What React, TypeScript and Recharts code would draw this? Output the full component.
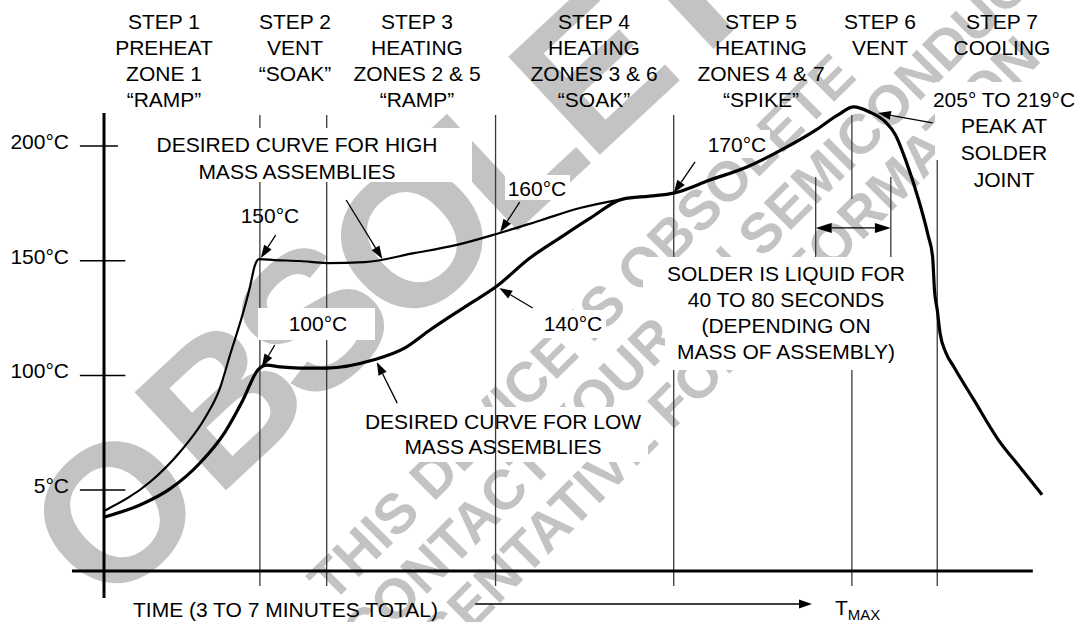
import React from 'react';
import { LineChart, Line, XAxis, YAxis, ReferenceLine } from 'recharts';

// ---- data (time in arbitrary units 0..104, temperature in °C) ----
const highMassCurve = [
  { t: 0, temp: 40.9 }, { t: 4.96, temp: 53.5 }, { t: 8.19, temp: 66.6 }, { t: 10.88, temp: 81.4 },
  { t: 12.5, temp: 94.5 }, { t: 13.58, temp: 108.9 }, { t: 14.98, temp: 127.2 }, { t: 15.73, temp: 138.6 },
  { t: 16.27, temp: 148.1 }, { t: 16.7, temp: 150.7 }, { t: 18.4, temp: 150.3 }, { t: 21.1, temp: 149.9 },
  { t: 24.0, temp: 149.0 }, { t: 28.1, temp: 149.4 }, { t: 33.4, temp: 153.3 }, { t: 37.9, temp: 156.8 },
  { t: 42.3, temp: 161.7 }, { t: 47.1, temp: 167.7 }, { t: 51.3, temp: 173.0 }, { t: 55.9, temp: 176.9 },
];

const lowMassCurve = [
  { t: 0, temp: 38.2 }, { t: 3.88, temp: 43.5 }, { t: 7.11, temp: 50.5 }, { t: 10.34, temp: 61.8 },
  { t: 13.04, temp: 75.3 }, { t: 14.98, temp: 89.3 }, { t: 16.59, temp: 102.4 }, { t: 17.56, temp: 104.5 },
  { t: 18.97, temp: 103.7 }, { t: 21.12, temp: 103.2 }, { t: 24.03, temp: 103.2 }, { t: 28.99, temp: 106.7 },
  { t: 32.44, temp: 112.0 }, { t: 35.13, temp: 119.8 }, { t: 38.9, temp: 129.9 }, { t: 42.35, temp: 139.0 },
  { t: 45.9, temp: 151.2 }, { t: 49.1, temp: 159.9 }, { t: 52.4, temp: 168.6 }, { t: 55.9, temp: 176.9 },
  { t: 58.8, temp: 178.2 }, { t: 61.4, temp: 179.5 }, { t: 65.3, temp: 185.2 }, { t: 69.3, temp: 190.9 },
  { t: 73.4, temp: 199.2 }, { t: 76.7, temp: 207.0 }, { t: 79.1, temp: 213.6 }, { t: 80.8, temp: 217.1 },
  { t: 82.5, temp: 214.9 }, { t: 84.2, temp: 210.6 }, { t: 85.3, temp: 204.9 }, { t: 86.4, temp: 193.9 },
  { t: 87.8, temp: 176.5 }, { t: 88.8, temp: 161.3 }, { t: 89.3, temp: 151.7 }, { t: 89.5, temp: 137.3 },
  { t: 89.8, temp: 128.6 }, { t: 90.1, temp: 118.5 }, { t: 90.7, temp: 110.2 }, { t: 91.6, temp: 103.7 },
  { t: 93.75, temp: 89.3 }, { t: 96.4, temp: 71.8 }, { t: 98.7, temp: 60.1 }, { t: 101.1, temp: 47.9 },
];

const yTicks = [50, 100, 150, 200];
const yTickLabels = ['5°C', '100°C', '150°C', '200°C'];

const stepHeaders = [
  ['STEP 1', 'PREHEAT', 'ZONE 1', '“RAMP”'],
  ['STEP 2', 'VENT', '“SOAK”'],
  ['STEP 3', 'HEATING', 'ZONES 2 & 5', '“RAMP”'],
  ['STEP 4', 'HEATING', 'ZONES 3 & 6', '“SOAK”'],
  ['STEP 5', 'HEATING', 'ZONES 4 & 7', '“SPIKE”'],
  ['STEP 6', 'VENT'],
  ['STEP 7', 'COOLING'],
];

// vertical divider segments (time, temp from, temp to)
const dividerSegments = [
  { t: 16.8, a: 213.6, b: 207.9 }, { t: 16.8, a: 184.3, b: 129.4 }, { t: 16.8, a: 115.4, b: 8.2 },
  { t: 24.0, a: 213.6, b: 207.9 }, { t: 24.0, a: 184.3, b: 129.4 }, { t: 24.0, a: 115.4, b: 8.2 },
  { t: 42.2, a: 213.6, b: 8.2 },
  { t: 61.4, a: 213.6, b: 151.6 }, { t: 61.4, a: 102.4, b: 8.2 },
  { t: 80.6, a: 213.6, b: 176.9 }, { t: 80.6, a: 102.4, b: 8.2 },
  { t: 89.8, a: 193.9, b: 8.2 },
  { t: 76.7, a: 186.5, b: 151.6 }, { t: 84.8, a: 186.5, b: 151.6 },
];

// annotation arrows: from (t1,T1) to tip (t2,T2)
const arrows = [
  { t1: 18.5, T1: 161.2, t2: 16.9, T2: 151.2 },
  { t1: 26.1, T1: 176.5, t2: 30.0, T2: 150.8 },
  { t1: 44.8, T1: 175.6, t2: 42.7, T2: 162.5 },
  { t1: 18.4, T1: 113.2, t2: 17.0, T2: 103.7 },
  { t1: 46.2, T1: 129.4, t2: 42.6, T2: 138.1 },
  { t1: 31.6, T1: 87.9, t2: 29.4, T2: 105.8 },
  { t1: 63.7, T1: 193.1, t2: 61.4, T2: 179.5 },
  { t1: 89.3, T1: 210.1, t2: 83.4, T2: 214.4 },
  { t1: 40.0, T1: 0.3, t2: 76.3, T2: 0.3 },
];
const liquidSpan = { t1: 76.7, t2: 84.8, T: 164.3 };

const FONT = '"Liberation Sans", Arial, Helvetica, sans-serif';

const head = (x1: number, y1: number, x2: number, y2: number, len = 13, hw = 4.5) => {
  const dx = x2 - x1;
  const dy = y2 - y1;
  const d = Math.sqrt(dx * dx + dy * dy) || 1;
  const ux = dx / d;
  const uy = dy / d;
  const bx = x2 - ux * len;
  const by = y2 - uy * len;
  return {
    pts: `${x2},${y2} ${bx - uy * hw},${by + ux * hw} ${bx + uy * hw},${by - ux * hw}`,
    bx,
    by,
  };
};

const ArrowShape = (p: any) => {
  const { x1, y1, x2, y2 } = p;
  const h = head(x1, y1, x2, y2);
  return (
    <g>
      <line x1={x1} y1={y1} x2={h.bx} y2={h.by} stroke="#000" strokeWidth={1.3} />
      <polygon points={h.pts} fill="#000" />
    </g>
  );
};

const DoubleArrowShape = (p: any) => {
  const { x1, y1, x2, y2 } = p;
  const h1 = head(x1, y1, x2, y2, 16, 5);
  const h2 = head(x2, y2, x1, y1, 16, 5);
  return (
    <g>
      <line x1={h2.bx} y1={h2.by} x2={h1.bx} y2={h1.by} stroke="#000" strokeWidth={1.3} />
      <polygon points={h1.pts} fill="#000" />
      <polygon points={h2.pts} fill="#000" />
    </g>
  );
};

const YTick = (props: any) => {
  const { x, y, payload } = props;
  const idx = yTicks.indexOf(payload.value);
  return (
    <text x={x} y={y} dy={3} textAnchor="end" fontFamily={FONT} fontSize={21} fill="#000">
      {yTickLabels[idx]}
    </text>
  );
};

const MultiText = ({ x, y, lines, lh }: { x: number; y: number; lines: string[]; lh: number }) => (
  <text x={x} y={y} textAnchor="middle" fontFamily={FONT} fontSize={21} fill="#000">
    {lines.map((l, i) => (
      <tspan key={i} x={x} y={y + i * lh}>
        {l}
      </tspan>
    ))}
  </text>
);

const headerX = [164, 295, 417, 594, 761, 880, 1002];

// watermark layout
const bigLetters = [
  { ch: 'O', x: 113, y: 510 },
  { ch: 'B', x: 220, y: 400 },
  { ch: 'S', x: 310, y: 317 },
  { ch: 'O', x: 410, y: 235 },
  { ch: 'L', x: 504, y: 148 },
  { ch: 'E', x: 590, y: 68 },
  { ch: 'T', x: 676, y: -12 },
  { ch: 'E', x: 762, y: -92 },
];
const smallLines = [
  { s: 'THIS DEVICE IS OBSOLETE', x: 332, y: 604 },
  { s: 'CONTACT YOUR ON SEMICONDUCTOR', x: 365, y: 656 },
  { s: 'REPRESENTATIVE FOR INFORMATION', x: 308, y: 795 },
];

const Watermark = () => (
  <svg width={1084} height={622} style={{ position: 'absolute', left: 0, top: 0 }}>
    <g fill="#c3c3c3" fontFamily={FONT} fontWeight="bold">
      {bigLetters.map((l, i) => (
        <text
          key={i}
          transform={`translate(${l.x},${l.y}) rotate(-43)`}
          fontSize={195}
          textAnchor="middle"
          dy="0.36em"
        >
          {l.ch}
        </text>
      ))}
      {smallLines.map((l, i) => (
        <text key={'s' + i} transform={`translate(${l.x},${l.y}) rotate(-45)`} fontSize={56}>
          {l.s}
        </text>
      ))}
    </g>
    <g fill="#fff">
      <rect x={148} y={128} width={324} height={54} />
      <rect x={258} y={308} width={117} height={32} />
      <rect x={358} y={407} width={290} height={55} />
      <rect x={538} y={310} width={68} height={28} />
      <rect x={505} y={175} width={65} height={25} />
      <rect x={704} y={130} width={66} height={28} />
      <rect x={238} y={203} width={64} height={24} />
      <rect x={643} y={257} width={287} height={53} />
      <rect x={665} y={310} width={265} height={60} />
      <rect x={935} y={82} width={149} height={110} />
    </g>
  </svg>
);

const Texts = () => (
  <svg width={1084} height={622} style={{ position: 'absolute', left: 0, top: 0, pointerEvents: 'none' }}>
    {stepHeaders.map((lines, i) => (
      <MultiText key={i} x={headerX[i]} y={28.5} lines={lines} lh={26} />
    ))}
    <MultiText x={297} y={151.5} lines={['DESIRED CURVE FOR HIGH', 'MASS ASSEMBLIES']} lh={27} />
    <MultiText x={270} y={222.5} lines={['150°C']} lh={26} />
    <MultiText x={537} y={195.5} lines={['160°C']} lh={26} />
    <MultiText x={318} y={330.5} lines={['100°C']} lh={26} />
    <MultiText x={573} y={330.5} lines={['140°C']} lh={26} />
    <MultiText x={503} y={428.5} lines={['DESIRED CURVE FOR LOW', 'MASS ASSEMBLIES']} lh={25.5} />
    <MultiText x={737} y={151.5} lines={['170°C']} lh={26} />
    <MultiText x={1004} y={106.5} lines={['205° TO 219°C', 'PEAK AT', 'SOLDER', 'JOINT']} lh={26.7} />
    <MultiText
      x={786}
      y={280.5}
      lines={['SOLDER IS LIQUID FOR', '40 TO 80 SECONDS', '(DEPENDING ON', 'MASS OF ASSEMBLY)']}
      lh={26.3}
    />
    <text x={133} y={617} fontFamily={FONT} fontSize={21} fill="#000">
      TIME (3 TO 7 MINUTES TOTAL)
    </text>
    <text x={835} y={615} fontFamily={FONT} fontSize={21} fill="#000">
      T
      <tspan fontSize={15} dy={5}>
        MAX
      </tspan>
    </text>
  </svg>
);

export default function App() {
  return (
    <div style={{ position: 'absolute', left: 0, top: 0, width: 1084, height: 622, background: '#fff' }}>
      <Watermark />
      <div style={{ position: 'absolute', left: 0, top: 0 }}>
        <LineChart width={1084} height={622} margin={{ top: 54.4, right: 15, bottom: 17.3, left: 0 }}>
          <XAxis dataKey="t" type="number" domain={[0, 104]} hide allowDataOverflow />
          <YAxis
            type="number"
            domain={[0, 240]}
            ticks={yTicks}
            interval={0}
            width={104}
            axisLine={false}
            tickLine={false}
            tickSize={0}
            tickMargin={35}
            tick={YTick}
            allowDataOverflow
          />
          {dividerSegments.map((s, i) => (
            <ReferenceLine
              key={'d' + i}
              segment={[{ x: s.t, y: s.a }, { x: s.t, y: s.b }]}
              stroke="#3a3a3a"
              strokeWidth={1.3}
              ifOverflow="visible"
            />
          ))}
          {yTicks.map((v) => (
            <ReferenceLine
              key={'tk' + v}
              segment={[{ x: -2.6, y: v }, { x: v === 200 ? 1.5 : 2.3, y: v }]}
              stroke="#000"
              strokeWidth={1.5}
              ifOverflow="visible"
            />
          ))}
          <ReferenceLine segment={[{ x: 0, y: 2.9 }, { x: 0, y: 214.4 }]} stroke="#000" strokeWidth={3} ifOverflow="visible" />
          <ReferenceLine segment={[{ x: -3.45, y: 14.7 }, { x: 100.1, y: 14.7 }]} stroke="#000" strokeWidth={3} ifOverflow="visible" />
          {arrows.map((a, i) => (
            <ReferenceLine
              key={'a' + i}
              segment={[{ x: a.t1, y: a.T1 }, { x: a.t2, y: a.T2 }]}
              ifOverflow="visible"
              shape={ArrowShape}
            />
          ))}
          <ReferenceLine
            segment={[{ x: liquidSpan.t1, y: liquidSpan.T }, { x: liquidSpan.t2, y: liquidSpan.T }]}
            ifOverflow="visible"
            shape={DoubleArrowShape}
          />
          <Line data={highMassCurve} dataKey="temp" type="monotone" stroke="#000" strokeWidth={2.2} dot={false} isAnimationActive={false} />
          <Line data={lowMassCurve} dataKey="temp" type="monotone" stroke="#000" strokeWidth={3.2} dot={false} isAnimationActive={false} />
        </LineChart>
      </div>
      <Texts />
    </div>
  );
}
